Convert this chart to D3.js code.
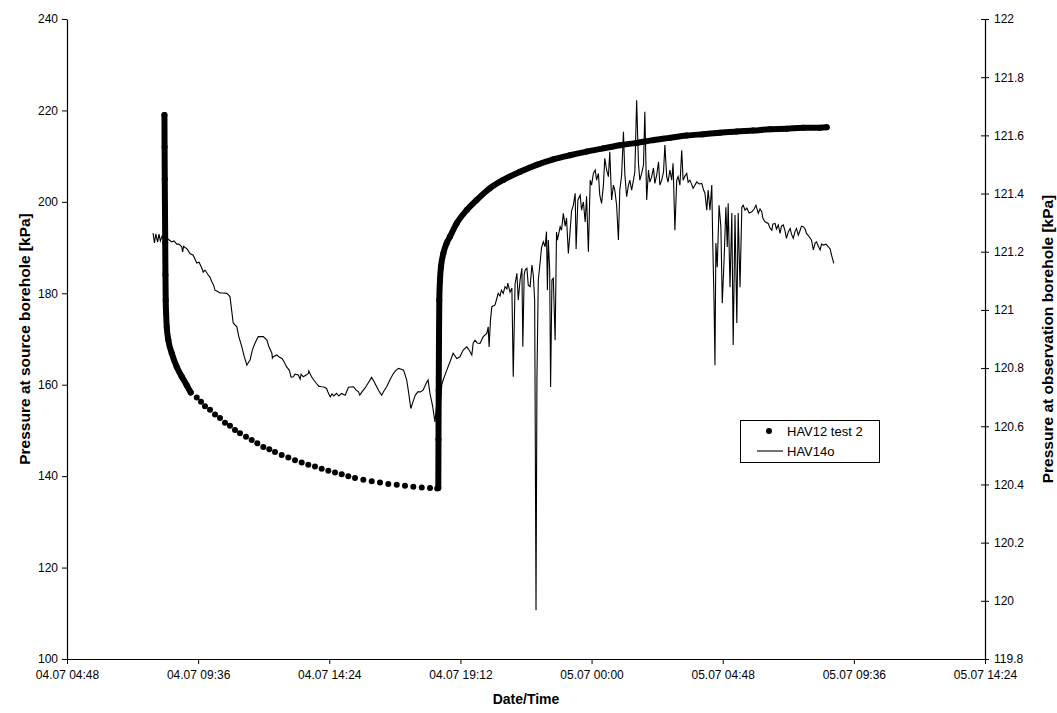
<!DOCTYPE html>
<html>
<head>
<meta charset="utf-8">
<script src="https://cdn.jsdelivr.net/npm/d3@7"></script>
<style>
  html, body { margin: 0; padding: 0; background: #fff; }
  svg text { font-family: "Liberation Sans", Arial, Helvetica, sans-serif; fill: #000; }
</style>
</head>
<body>
<svg id="chart" width="1057" height="713"></svg>
<script>
// All times are minutes after 04.07 00:00.
const xDomainMinutes = [288, 2304];
const xTickMinutes = [288, 576, 864, 1152, 1440, 1728, 2016, 2304];
const leftTicks = [100, 120, 140, 160, 180, 200, 220, 240];
const rightTicks = [119.8, 120, 120.2, 120.4, 120.6, 120.8, 121, 121.2, 121.4, 121.6, 121.8, 122];

// HAV12 test 2 — pressure at source borehole [kPa]
// drawdown, first minutes (logged densely)
const hav12Drawdown = [
  [502.0,219.0],[502.3,212.0],[502.7,205.0],[503.2,198.0],[503.7,191.0],[504.2,184.0],
  [504.8,178.5],[505.6,175.8],[507.0,172.7],[510.5,169.8],[518.0,166.9],[529.0,163.9],
  [539.9,161.8],[550.9,159.9],[559.7,158.3]
];
// drawdown, later readings
const hav12DrawdownLate = [
  [572.9,157.2],[582.3,156.3],[591.1,155.3],[602.1,154.5],[613.0,153.5],[624.0,152.7],
  [635.0,151.7],[646.0,151.0],[657.0,150.1],[667.9,149.4],[681.1,148.6],[693.6,147.9],
  [705.9,147.2],[719.1,146.4],[732.3,145.9],[744.8,145.3],[759.5,144.6],[774.0,144.1],
  [788.7,143.5],[803.4,143.0],[817.9,142.5],[832.6,142.1],[847.3,141.6],[861.9,141.2],
  [876.6,140.8],[891.3,140.4],[905.8,140.0],[920.5,139.6],[938.7,139.2],[957.2,138.9],
  [975.4,138.6],[993.6,138.3],[1012.1,138.1],[1030.3,137.9],[1048.5,137.7],[1067.0,137.5],
  [1085.2,137.4],[1100.9,137.3]
];
// recovery (logged densely)
const hav12Recovery = [
  [1103.4,137.4],[1103.8,148.0],[1104.3,158.8],[1104.9,169.8],[1105.6,178.5],[1107.1,182.9],
  [1109.3,185.8],[1114.4,188.7],[1121.9,191.0],[1129.1,192.4],[1143.8,195.3],[1165.8,198.2],
  [1187.7,200.4],[1216.9,203.0],[1246.2,204.8],[1283.0,206.6],[1319.5,208.1],[1356.0,209.3],
  [1392.6,210.2],[1429.3,211.0],[1465.8,211.7],[1502.4,212.4],[1539.1,212.9],[1575.6,213.5],
  [1612.2,214.0],[1648.9,214.5],[1685.3,214.8],[1722.0,215.1],[1758.7,215.4],[1795.1,215.6],
  [1831.8,215.9],[1868.5,216.0],[1904.9,216.2],[1941.6,216.2],[1956.3,216.3]
];

// HAV14o — pressure at observation borehole [kPa]
const hav14o = [
  [477,121.264],[480,121.230],[483,121.261],[487,121.233],[490,121.261],[493,121.237],[497,121.254],
  [503,121.240],[510,121.243],[518,121.234],[523,121.237],[529,121.226],[534,121.226],[540,121.217],
  [542,121.199],[544,121.219],[552,121.209],[558,121.194],[565,121.188],[573,121.161],[578,121.164],
  [584,121.144],[587,121.130],[591,121.137],[598,121.120],[602,121.113],[606,121.097],[610,121.085],
  [613,121.068],[617,121.065],[624,121.058],[631,121.058],[639,121.057],[643,121.051],[646,121.045],
  [649,121.006],[653,120.955],[661,120.942],[665,120.910],[672,120.873],[677,120.841],[683,120.810],
  [687,120.821],[690,120.828],[695,120.862],[701,120.886],[708,120.908],[719,120.908],[727,120.896],
  [731,120.875],[738,120.851],[739,120.834],[741,120.839],[749,120.845],[754,120.838],[760,120.833],
  [765,120.821],[770,120.805],[776,120.793],[778,120.782],[780,120.769],[785,120.770],[789,120.779],
  [796,120.776],[800,120.762],[802,120.779],[807,120.770],[813,120.776],[818,120.782],[819,120.790],
  [825,120.770],[830,120.759],[836,120.747],[841,120.738],[847,120.736],[852,120.735],[858,120.730],
  [861,120.718],[866,120.701],[870,120.711],[874,120.704],[880,120.713],[885,120.704],[891,120.713],
  [899,120.707],[906,120.734],[917,120.736],[923,120.724],[928,120.719],
  [931,120.707],[937,120.721],[942,120.730],[949,120.748],[957,120.768],[962,120.755],[968,120.736],
  [973,120.721],[979,120.707],[984,120.721],[990,120.736],[997,120.759],[1005,120.782],[1011,120.793],
  [1016,120.799],[1021,120.797],[1027,120.793],[1030,120.779],[1034,120.759],[1038,120.718],[1043,120.661],
  [1049,120.690],[1053,120.707],[1059,120.719],[1064,120.718],[1070,120.724],[1076,120.745],[1081,120.759],
  [1085,120.713],[1091,120.669],[1096,120.615],[1101,120.690],[1105,120.724],[1108,120.673],[1111,120.742],
  [1114,120.759],[1122,120.793],[1129,120.821],[1136,120.851],[1144,120.833],[1151,120.839],[1158,120.862],
  [1166,120.873],[1171,120.862],[1177,120.845],[1180,120.886],[1184,120.896],[1189,120.886],
  [1195,120.885],[1202,120.908],[1210,120.919],[1213,120.942],[1215,120.873],[1218,120.965],[1221,121.011],
  [1228,121.017],[1231,121.034],[1235,121.057],[1239,121.048],[1242,121.068],[1246,121.057],[1250,121.080],
  [1254,121.072],[1256,121.092],[1261,121.061],[1265,121.075],[1268,120.770],[1272,121.089],[1276,121.126],
  [1279,121.034],[1283,121.103],[1287,121.143],[1289,120.873],[1292,121.120],[1294,121.137],[1298,121.143],
  [1301,121.085],[1305,121.080],[1309,121.154],[1312,121.120],[1315,121.034],[1316,120.701],[1318,119.968],
  [1320,120.759],[1323,121.103],[1327,121.164],[1330,121.213],[1334,121.234],[1338,121.217],[1341,121.269],
  [1343,121.068],[1345,121.240],[1348,121.137],[1350,120.735],[1353,121.103],[1356,121.109],[1360,120.896],
  [1363,121.268],[1365,121.240],[1371,121.286],[1374,121.274],[1378,121.332],[1382,121.288],[1385,121.316],
  [1389,121.194],[1393,121.274],[1396,121.340],[1400,121.360],[1404,121.401],[1406,121.209],[1410,121.378],
  [1415,121.395],[1418,121.343],[1422,121.371],[1426,121.302],[1429,121.391],[1433,121.200],[1437,121.446],
  [1440,121.429],[1444,121.469],[1448,121.481],[1451,121.446],[1455,121.469],[1458,121.395],
  [1462,121.366],[1466,121.429],[1469,121.521],[1473,121.481],[1477,121.458],[1480,121.544],[1484,121.378],
  [1488,121.429],[1491,121.412],[1495,121.360],[1499,121.240],[1502,121.412],[1506,121.463],[1510,121.612],
  [1513,121.469],[1517,121.389],[1521,121.429],[1524,121.446],[1528,121.412],[1532,121.446],[1535,121.474],
  [1539,121.721],[1543,121.504],[1546,121.446],[1550,121.469],[1554,121.498],[1557,121.681],[1561,121.378],
  [1565,121.481],[1568,121.439],[1572,121.458],[1576,121.488],[1579,121.435],[1583,121.463],[1587,121.509],
  [1590,121.429],[1594,121.446],[1598,121.474],[1601,121.567],[1605,121.458],[1608,121.439],[1612,121.481],
  [1616,121.446],[1619,121.504],[1623,121.274],[1627,121.446],[1630,121.458],[1634,121.429],[1638,121.549],
  [1641,121.446],[1645,121.460],[1649,121.469],[1652,121.439],[1656,121.446],
  [1663,121.418],[1671,121.440],[1676,121.433],[1682,121.435],[1686,121.412],[1689,121.401],[1693,121.343],
  [1696,121.412],[1700,121.343],[1704,121.429],[1706,121.240],[1709,121.023],[1711,120.810],[1713,121.230],
  [1716,121.147],[1720,121.360],[1724,121.285],[1727,121.023],[1731,121.171],[1735,121.353],[1738,121.216],
  [1740,121.367],[1744,121.078],[1748,121.333],[1751,120.879],[1755,121.326],[1759,120.955],[1762,121.333],
  [1766,121.078],[1770,121.353],[1773,121.360],[1777,121.343],[1781,121.350],[1786,121.333],[1792,121.337],
  [1797,121.347],[1801,121.360],[1806,121.332],[1810,121.347],[1814,121.337],[1816,121.316],[1821,121.303],
  [1828,121.297],[1832,121.281],[1836,121.274],[1838,121.295],[1843,121.297],[1846,121.278],[1850,121.292],
  [1854,121.263],[1857,121.288],[1861,121.292],[1865,121.271],[1868,121.246],[1872,121.268],[1876,121.280],
  [1879,121.261],[1883,121.246],[1887,121.271],[1890,121.280],[1894,121.257],[1898,121.274],[1901,121.288],
  [1905,121.286],[1909,121.278],[1912,121.263],[1917,121.254],[1923,121.240],[1927,121.206],[1931,121.230],
  [1934,121.234],[1938,121.219],[1942,121.206],[1945,121.226],[1949,121.223],[1955,121.226],[1960,121.217],
  [1964,121.209],[1967,121.188],[1972,121.160]
];

const seriesNames = ["HAV12 test 2", "HAV14o"];

// ---- drawing ----
const svg = d3.select("#chart");
const plot = { left: 67, right: 985, top: 19, bottom: 659 };
const day0 = Date.UTC(2000, 6, 4);
const toDate = m => new Date(day0 + m * 60000);

const x = d3.scaleUtc().domain(xDomainMinutes.map(toDate)).range([plot.left, plot.right]);
const yL = d3.scaleLinear().domain([100, 240]).range([plot.bottom, plot.top]);
const yR = d3.scaleLinear().domain([119.8, 122]).range([plot.bottom, plot.top]);

const fmtTime = d3.utcFormat("%d.%m %H:%M");
const fmtRight = v => String(Math.round(v * 10) / 10);

// axes
const xAxis = d3.axisBottom(x).tickValues(xTickMinutes.map(toDate)).tickFormat(fmtTime)
  .tickSizeInner(5).tickSizeOuter(0).tickPadding(6);
const gx = svg.append("g").attr("transform", `translate(0,${plot.bottom})`).call(xAxis);

const gl = svg.append("g").attr("transform", `translate(${plot.left},0)`)
  .call(d3.axisLeft(yL).tickValues(leftTicks).tickFormat(d3.format("d"))
    .tickSizeInner(5).tickSizeOuter(0).tickPadding(4));

const gr = svg.append("g").attr("transform", `translate(${plot.right},0)`)
  .call(d3.axisRight(yR).tickValues(rightTicks).tickFormat(fmtRight)
    .tickSizeInner(4).tickSizeOuter(0).tickPadding(5));
// secondary axis ticks cross the axis line
gr.selectAll(".tick line").attr("x1", -4).attr("x2", 4);

[gx, gl, gr].forEach(g => {
  g.select(".domain").attr("stroke", "#000").attr("stroke-width", 1.2);
  g.selectAll(".tick line").attr("stroke", "#000");
  g.selectAll(".tick text").attr("font-size", 12).attr("font-family", null).attr("fill", "#000");
});

// axis titles
svg.append("text").attr("x", (plot.left + plot.right) / 2).attr("y", 704)
  .attr("text-anchor", "middle").attr("font-weight", "bold").attr("font-size", 14)
  .text("Date/Time");
svg.append("text").attr("transform", `translate(24,${(plot.top + plot.bottom) / 2}) rotate(-90)`)
  .attr("text-anchor", "middle").attr("dominant-baseline", "central")
  .attr("font-weight", "bold").attr("font-size", 15.5)
  .text("Pressure at source borehole [kPa]");
svg.append("text").attr("transform", `translate(1047,${(plot.top + plot.bottom) / 2}) rotate(-90)`)
  .attr("text-anchor", "middle").attr("dominant-baseline", "central")
  .attr("font-weight", "bold").attr("font-size", 15.5)
  .text("Pressure at observation borehole [kPa]");

// HAV14o thin line (right axis)
const lineR = d3.line().x(d => x(toDate(d[0]))).y(d => yR(d[1]));
svg.append("path").datum(hav14o).attr("d", lineR)
  .attr("fill", "none").attr("stroke", "#000").attr("stroke-width", 1.1)
  .attr("stroke-linejoin", "miter");

// HAV12 test 2 markers (left axis)
const dotR = 3;
const lineL = d3.line().x(d => x(toDate(d[0]))).y(d => yL(d[1])).curve(d3.curveMonotoneX);
[hav12Drawdown, hav12Recovery].forEach(run => {
  svg.append("path").datum(run).attr("d", lineL)
    .attr("fill", "none").attr("stroke", "#000").attr("stroke-width", dotR * 2)
    .attr("stroke-linecap", "round").attr("stroke-linejoin", "round");
});
svg.append("g").selectAll("circle")
  .data([...hav12Drawdown, ...hav12DrawdownLate, ...hav12Recovery])
  .join("circle")
  .attr("cx", d => x(toDate(d[0]))).attr("cy", d => yL(d[1])).attr("r", dotR)
  .attr("fill", "#000");

// legend
const lg = svg.append("g").attr("transform", "translate(740,420)");
lg.append("rect").attr("x", 0.5).attr("y", 0.5).attr("width", 139).attr("height", 42)
  .attr("fill", "#fff").attr("stroke", "#000").attr("stroke-width", 1);
lg.append("circle").attr("cx", 29).attr("cy", 11).attr("r", dotR).attr("fill", "#000");
lg.append("line").attr("x1", 17).attr("x2", 43).attr("y1", 31).attr("y2", 31)
  .attr("stroke", "#000").attr("stroke-width", 1.1);
lg.append("text").attr("x", 47).attr("y", 15.5).attr("font-size", 13).text(seriesNames[0]);
lg.append("text").attr("x", 47).attr("y", 36).attr("font-size", 13).text(seriesNames[1]);
</script>
</body>
</html>
